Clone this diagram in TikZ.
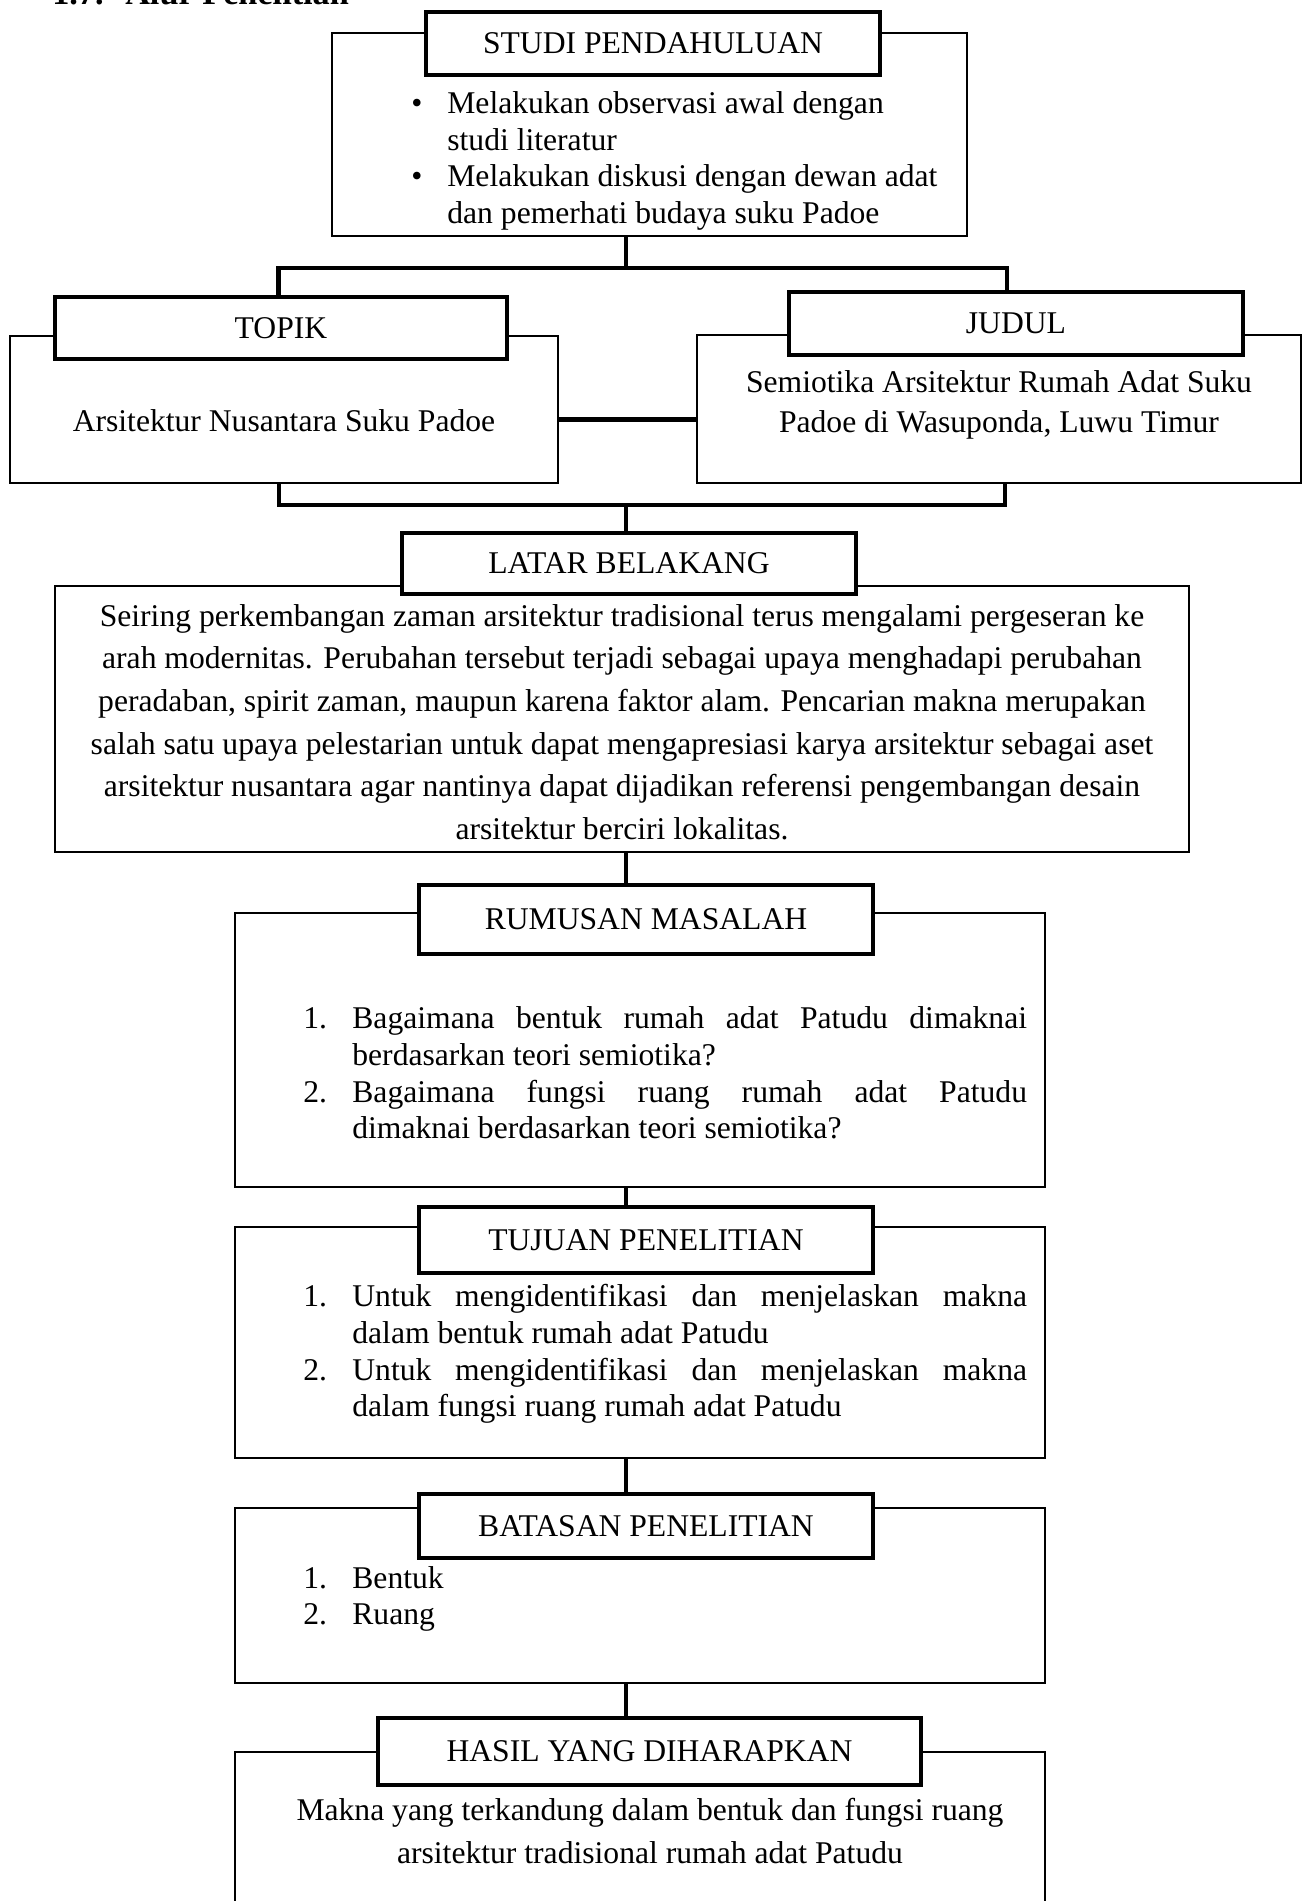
\documentclass[tikz,border=0pt]{standalone}
\usepackage{fontspec}
\setmainfont{Liberation Serif}
\usetikzlibrary{fit,shadows}

\begin{document}
\begin{tikzpicture}[
  x=0.02cm, y=-0.02cm,
  outer box/.style={draw, line width=0.7pt, inner sep=0pt},
  head box/.style={draw, fill=white, line width=2.6pt, inner sep=0pt,
    drop shadow={opacity=0.25, shadow xshift=0.6pt, shadow yshift=-0.9pt},
    label={[inner sep=0pt, font=\fontsize{18}{21}\selectfont]center:#1}},
  body text/.style={inner sep=0pt, align=left, font=\fontsize{18}{20.9}\selectfont},
  link/.style={line width=2.4pt},
]
  \newcommand*{\NumW}{27.9pt}
  \newcommand*{\ItemW}{384pt}
  \newcommand*{\FullLine}[1]{\makebox[\ItemW][s]{#1}}
  \newcommand*{\Num}[1]{\makebox[\NumW][l]{#1}}
  \newcommand*{\Dot}{\makebox[20.5pt][l]{\textbullet}}

  \useasboundingbox (0,0) rectangle (1302,1901);
  \coordinate (spine) at (626,0);

  % heading, cut by the page edge
  \node[anchor=base west, inner sep=0pt, font=\bfseries\fontsize{19.5}{22}\selectfont]
    (bab) at (52,4) {\makebox[41.5pt][l]{1.7.}Alur Penelitian};

  % outer boxes
  \node[outer box, fit={(332,33) (967,236)}] (studi) {};
  \node[outer box, fit={(10,336) (558,483)}] (topik) {};
  \node[outer box, fit={(697,335) (1301,483)}] (judul) {};
  \node[outer box, fit={(55,586) (1189,852)}] (latar) {};
  \node[outer box, fit={(235,913) (1045,1187)}] (rumusan) {};
  \node[outer box, fit={(235,1227) (1045,1458)}] (tujuan) {};
  \node[outer box, fit={(235,1508) (1045,1683)}] (batasan) {};
  \node[outer box, fit={(235,1752) (1045,1925)}] (hasil) {};

  % title boxes
  \node[head box={STUDI PENDAHULUAN}, fit={(426,12) (880,75)}] (studi-t) {};
  \node[head box={TOPIK}, fit={(55,297) (507,359)}] (topik-t) {};
  \node[head box={JUDUL}, fit={(789,292) (1243,355)}] (judul-t) {};
  \node[head box={LATAR BELAKANG}, fit={(402,533) (856,594)}] (latar-t) {};
  \node[head box={RUMUSAN MASALAH}, fit={(419,885) (873,954)}] (rumusan-t) {};
  \node[head box={TUJUAN PENELITIAN}, fit={(419,1207) (873,1273)}] (tujuan-t) {};
  \node[head box={BATASAN PENELITIAN}, fit={(419,1494) (873,1558)}] (batasan-t) {};
  \node[head box={HASIL YANG DIHARAPKAN}, fit={(378,1718) (921,1785)}] (hasil-t) {};

  % connectors
  \draw[link] (studi.south -| spine) -- ++(0,31) coordinate (j1);
  \draw[link] ([xshift=-0.5mm]topik-t.north) |- (j1) -| ([xshift=-1.8mm]judul-t.north);
  \draw[link] ([yshift=-2mm]topik.east) -- ([yshift=-2mm]topik.east -| judul.west);
  \draw[link] ([xshift=-1mm]topik.south) -- ++(0,21) coordinate (j2) -| ([xshift=1.2mm]judul.south);
  \draw[link] (j2 -| spine) -- (latar-t.north -| spine);
  \foreach \a/\b in {latar/rumusan-t, rumusan/tujuan-t, tujuan/batasan-t, batasan/hasil-t}
    \draw[link] (\a.south -| spine) -- (\b.north -| spine);

  % box texts
  \node[body text, anchor=west] (studi-txt) at (411,161) {%
    \Dot Melakukan observasi awal dengan\\
    \hspace*{20.5pt}studi literatur\\
    \Dot Melakukan diskusi dengan dewan adat\\
    \hspace*{20.5pt}dan pemerhati budaya suku Padoe};
  \node[body text] (topik-txt) at (284,421) {Arsitektur Nusantara Suku Padoe};
  \node[body text, align=center, font=\fontsize{18}{22.8}\selectfont]
    (judul-txt) at (999,405) {Semiotika Arsitektur Rumah Adat Suku\\
    Padoe di Wasuponda, Luwu Timur};
  \node[body text, align=center, font=\fontsize{18}{24.2}\selectfont]
    (latar-txt) at (622,722) {%
    Seiring perkembangan zaman arsitektur tradisional terus mengalami pergeseran ke\\
    arah modernitas. Perubahan tersebut terjadi sebagai upaya menghadapi perubahan\\
    peradaban, spirit zaman, maupun karena faktor alam. Pencarian makna merupakan\\
    salah satu upaya pelestarian untuk dapat mengapresiasi karya arsitektur sebagai aset\\
    arsitektur nusantara agar nantinya dapat dijadikan referensi pengembangan desain\\
    arsitektur berciri lokalitas.};
  \node[body text, anchor=west] (rumusan-txt) at (303,1073) {%
    \Num{1.}\FullLine{Bagaimana bentuk rumah adat Patudu dimaknai}\\
    \hspace*{\NumW}berdasarkan teori semiotika?\\
    \Num{2.}\FullLine{Bagaimana fungsi ruang rumah adat Patudu}\\
    \hspace*{\NumW}dimaknai berdasarkan teori semiotika?};
  \node[body text, anchor=west] (tujuan-txt) at (303,1354) {%
    \Num{1.}\FullLine{Untuk mengidentifikasi dan menjelaskan makna}\\
    \hspace*{\NumW}dalam bentuk rumah adat Patudu\\
    \Num{2.}\FullLine{Untuk mengidentifikasi dan menjelaskan makna}\\
    \hspace*{\NumW}dalam fungsi ruang rumah adat Patudu};
  \node[body text, anchor=west] (batasan-txt) at (303,1599) {%
    \Num{1.}Bentuk\\
    \Num{2.}Ruang};
  \node[body text, align=center, font=\fontsize{18}{24.2}\selectfont]
    (hasil-txt) at (650,1831) {Makna yang terkandung dalam bentuk dan fungsi ruang\\
    arsitektur tradisional rumah adat Patudu};
\end{tikzpicture}
\end{document}
